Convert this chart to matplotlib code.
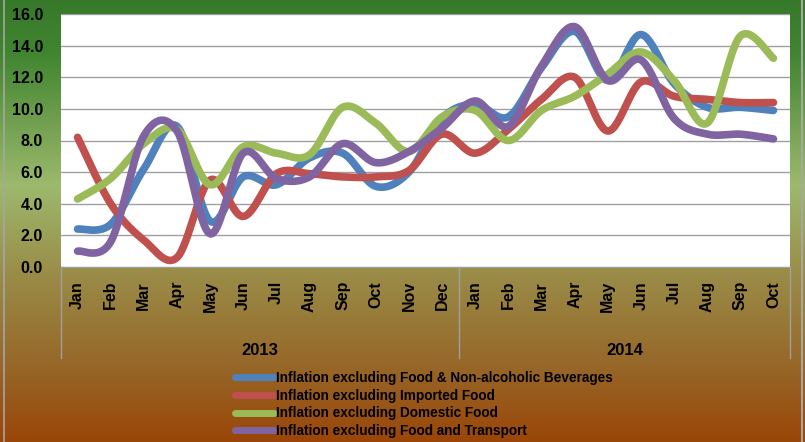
import numpy as np
import matplotlib.pyplot as plt
from matplotlib.colors import LinearSegmentedColormap
from matplotlib.lines import Line2D
import matplotlib.transforms as mtransforms

plt.rcParams['font.family'] = ['Liberation Sans', 'DejaVu Sans']
plt.rcParams['font.weight'] = 'bold'

# data
months = ['Jan', 'Feb', 'Mar', 'Apr', 'May', 'Jun', 'Jul', 'Aug', 'Sep', 'Oct', 'Nov', 'Dec',
          'Jan', 'Feb', 'Mar', 'Apr', 'May', 'Jun', 'Jul', 'Aug', 'Sep', 'Oct']
years = ['2013', '2014']
year_counts = [12, 10]

excl_food_bev = [2.4, 2.7, 6.2, 8.9, 2.9, 5.7, 5.2, 6.9, 7.2, 5.1, 6.0, 9.4,
                 10.3, 9.5, 12.6, 14.9, 11.8, 14.7, 11.6, 10.1, 10.1, 9.9]
excl_imported = [8.2, 4.0, 1.7, 0.6, 5.5, 3.2, 5.9, 5.9, 5.7, 5.7, 6.1, 8.4,
                 7.2, 8.7, 10.6, 12.0, 8.6, 11.7, 10.8, 10.6, 10.4, 10.4]
excl_domestic = [4.3, 5.6, 7.8, 8.7, 5.2, 7.6, 7.2, 7.1, 10.1, 9.1, 7.3, 9.5,
                 9.9, 8.0, 9.9, 10.8, 12.2, 13.6, 11.8, 9.1, 14.6, 13.2]
excl_food_transport = [1.0, 1.6, 8.3, 8.6, 2.1, 7.2, 5.6, 5.7, 7.8, 6.6, 7.3, 8.8,
                       10.5, 8.9, 12.7, 15.2, 11.8, 13.1, 9.4, 8.4, 8.4, 8.1]

series = [
    ('Inflation excluding Food & Non-alcoholic Beverages', excl_food_bev, '#4f81bd'),
    ('Inflation excluding Imported Food', excl_imported, '#c0504d'),
    ('Inflation excluding Domestic Food', excl_domestic, '#9bbb59'),
    ('Inflation excluding Food and Transport', excl_food_transport, '#8064a2'),
]


def smooth(x, y, n=30):
    # Excel-like smoothing: Catmull-Rom segments as cubic Bezier
    x = np.asarray(x, float)
    y = np.asarray(y, float)
    px = np.concatenate([[x[0]], x, [x[-1]]])
    py = np.concatenate([[y[0]], y, [y[-1]]])
    xs, ys = [], []
    t = np.linspace(0, 1, n)
    for i in range(1, len(px) - 2):
        p0 = np.array([px[i], py[i]])
        p3 = np.array([px[i + 1], py[i + 1]])
        c1 = p0 + (np.array([px[i + 1], py[i + 1]]) - np.array([px[i - 1], py[i - 1]])) / 6
        c2 = p3 - (np.array([px[i + 2], py[i + 2]]) - np.array([px[i], py[i]])) / 6
        b = ((1 - t) ** 3)[:, None] * p0 + (3 * (1 - t) ** 2 * t)[:, None] * c1 \
            + (3 * (1 - t) * t ** 2)[:, None] * c2 + (t ** 3)[:, None] * p3
        xs.append(b[:, 0])
        ys.append(b[:, 1])
    return np.concatenate(xs), np.concatenate(ys)


fig = plt.figure(figsize=(8.05, 4.42), dpi=100)

# gradient background
bg = fig.add_axes([0, 0, 1, 1], zorder=-10)
cmap = LinearSegmentedColormap.from_list('bg', [
    (0.0, '#37792b'), (0.12, '#418530'), (0.42, '#9db96d'),
    (0.62, '#9a8c48'), (0.83, '#966728'), (1.0, '#9a4608')])
bg.imshow(np.linspace(0, 1, 256)[:, None], aspect='auto', cmap=cmap,
          extent=[0, 1, 0, 1], origin='upper')
bg.set_xlim(0, 1)
bg.set_ylim(0, 1)
bg.axis('off')
bg.add_line(Line2D([0.005, 0.005], [0, 1], color='#a6a6a6', lw=1.2))
bg.add_line(Line2D([0.996, 0.996], [0, 1], color='#a6a6a6', lw=1.5))

W, H = 805, 442
ax = fig.add_axes([61 / W, (H - 267) / H, 729 / W, 253 / H])
ax.set_facecolor('white')

x = np.arange(len(months))
for label, vals, col in series:
    sx, sy = smooth(x, vals)
    ax.plot(sx, sy, color=col, lw=5.5, solid_capstyle='round', label=label)

ax.set_xlim(-0.5, len(months) - 0.5)
ax.set_ylim(0, 16)
ax.set_yticks(np.arange(0, 17, 2))
ax.set_yticklabels([f'{v:.1f}' for v in np.arange(0, 17, 2)], fontsize=11.5)
ax.grid(axis='y', color='#a0a0a0', lw=1)
ax.set_axisbelow(True)
ax.set_xticks(x)
ax.set_xticklabels(months, rotation=90, fontsize=11.5)
ax.tick_params(axis='x', length=0, pad=10)
ax.tick_params(axis='y', length=0, pad=13)
for s in ['left', 'right', 'top']:
    ax.spines[s].set_visible(False)
ax.spines['bottom'].set_color('#a0a0a0')

# year group labels and separators
trans = mtransforms.blended_transform_factory(ax.transData, ax.transAxes)
start = -0.5
for yr, cnt in zip(years, year_counts):
    ax.text(start + cnt / 2, -0.33, yr, transform=trans, ha='center', va='center',
            fontsize=12, fontweight='bold', clip_on=False)
    start += cnt
bounds = [-0.5, 11.5, 21.5]
for b in bounds:
    ax.add_line(Line2D([b, b], [0, -0.36], transform=trans, color='#a0a0a0',
                       lw=1, clip_on=False))

leg = fig.legend(loc='upper left', bbox_to_anchor=(228 / W, 1 - 364 / H),
                 frameon=False, fontsize=9.8, handlelength=2.9, handletextpad=0.12,
                 labelspacing=0.28, borderpad=0)
for h in leg.get_lines():
    h.set_linewidth(5)

fig.savefig('out.png', dpi=100)
